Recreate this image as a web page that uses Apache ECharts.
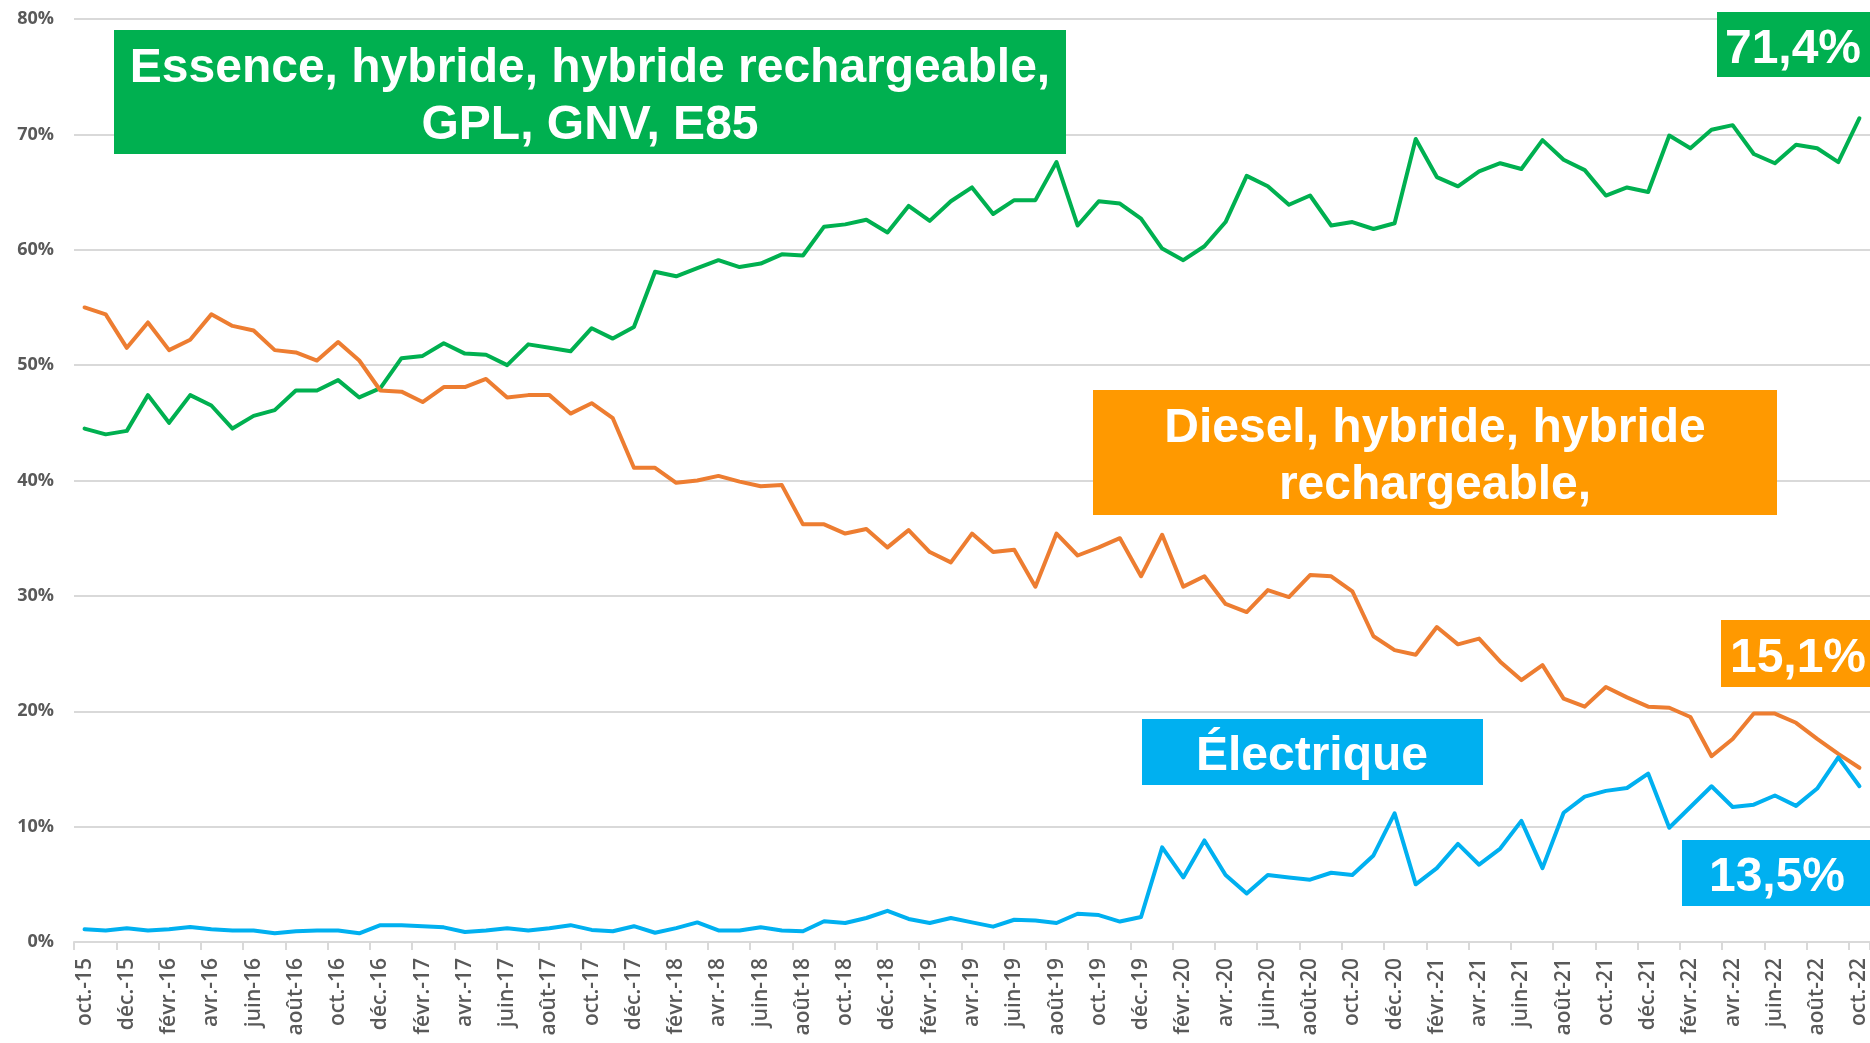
<!DOCTYPE html>
<html>
<head>
<meta charset="utf-8">
<script src="https://cdn.jsdelivr.net/npm/echarts@6/dist/echarts.min.js"></script>
<style>
html,body{margin:0;padding:0;background:#fff;}
#chart{width:1870px;height:1043px;}
</style>
</head>
<body>
<div id="chart"></div>
<script>
const categories = [
"oct.-15","nov.-15","déc.-15","janv.-16","févr.-16","mars-16","avr.-16","mai-16","juin-16","juil.-16","août-16","sept.-16",
"oct.-16","nov.-16","déc.-16","janv.-17","févr.-17","mars-17","avr.-17","mai-17","juin-17","juil.-17","août-17","sept.-17",
"oct.-17","nov.-17","déc.-17","janv.-18","févr.-18","mars-18","avr.-18","mai-18","juin-18","juil.-18","août-18","sept.-18",
"oct.-18","nov.-18","déc.-18","janv.-19","févr.-19","mars-19","avr.-19","mai-19","juin-19","juil.-19","août-19","sept.-19",
"oct.-19","nov.-19","déc.-19","janv.-20","févr.-20","mars-20","avr.-20","mai-20","juin-20","juil.-20","août-20","sept.-20",
"oct.-20","nov.-20","déc.-20","janv.-21","févr.-21","mars-21","avr.-21","mai-21","juin-21","juil.-21","août-21","sept.-21",
"oct.-21","nov.-21","déc.-21","janv.-22","févr.-22","mars-22","avr.-22","mai-22","juin-22","juil.-22","août-22","sept.-22",
"oct.-22"
];

const essence = [
44.5,44.0,44.3,47.4,45.0,47.4,46.5,44.5,45.6,46.1,47.8,47.8,
48.7,47.2,48.0,50.6,50.8,51.9,51.0,50.9,50.0,51.8,51.5,51.2,
53.2,52.3,53.3,58.1,57.7,58.4,59.1,58.5,58.8,59.6,59.5,62.0,
62.2,62.6,61.5,63.8,62.5,64.2,65.4,63.1,64.3,64.3,67.6,62.1,
64.2,64.0,62.7,60.1,59.1,60.3,62.4,66.4,65.5,63.9,64.7,62.1,
62.4,61.8,62.3,69.6,66.3,65.5,66.8,67.5,67.0,69.5,67.8,66.9,
64.7,65.4,65.0,69.9,68.8,70.4,70.8,68.3,67.5,69.1,68.8,67.6,
71.4
];

const diesel = [
55.0,54.4,51.5,53.7,51.3,52.2,54.4,53.4,53.0,51.3,51.1,50.4,
52.0,50.4,47.8,47.7,46.8,48.1,48.1,48.8,47.2,47.4,47.4,45.8,
46.7,45.4,41.1,41.1,39.8,40.0,40.4,39.9,39.5,39.6,36.2,36.2,
35.4,35.8,34.2,35.7,33.8,32.9,35.4,33.8,34.0,30.8,35.4,33.5,
34.2,35.0,31.7,35.3,30.8,31.7,29.3,28.6,30.5,29.9,31.8,31.7,
30.4,26.5,25.3,24.9,27.3,25.8,26.3,24.3,22.7,24.0,21.1,20.4,
22.1,21.2,20.4,20.3,19.5,16.1,17.6,19.8,19.8,19.0,17.6,16.3,
15.1
];

const electrique = [
1.1,1.0,1.2,1.0,1.1,1.3,1.1,1.0,1.0,0.75,0.93,1.0,
1.0,0.75,1.46,1.46,1.37,1.27,0.87,1.0,1.2,1.0,1.2,1.46,
1.05,0.93,1.37,0.8,1.2,1.7,1.0,1.0,1.27,1.0,0.93,1.8,
1.65,2.08,2.7,2.0,1.65,2.08,1.7,1.33,1.93,1.86,1.65,2.45,
2.33,1.77,2.17,8.2,5.6,8.8,5.8,4.2,5.8,5.6,5.4,6.0,
5.8,7.5,11.15,5.0,6.4,8.5,6.7,8.1,10.5,6.4,11.2,12.6,
13.1,13.35,14.6,9.9,11.7,13.5,11.7,11.9,12.7,11.8,13.3,16.0,
13.5
];

const yTicks = [0,10,20,30,40,50,60,70,80];

const labelEssence = ["Essence, hybride, hybride rechargeable,", "GPL, GNV, E85"];
const labelDiesel = ["Diesel, hybride, hybride", "rechargeable,"];
const labelElec = "Électrique";
const lastEssence = "71,4%";
const lastDiesel = "15,1%";
const lastElec = "13,5%";

const GREEN = '#00B050', ORANGE_LINE = '#ED7D31', ORANGE_BOX = '#FF9900', BLUE = '#00B0F0';
const BOXFONT = 'bold 48px "Liberation Sans", Arial, sans-serif';

function box(x, y, w, h, color, lines, cx, lh) {
  const els = [{
    type: 'rect', shape: {x: x, y: y, width: w, height: h},
    style: {fill: color}, z: 100
  }];
  const n = lines.length;
  lines.forEach(function (t, i) {
    els.push({
      type: 'text', z: 101,
      style: {
        text: t, x: cx, y: y + h / 2 + 5 + (i - (n - 1) / 2) * lh,
        fill: '#ffffff', font: BOXFONT,
        align: 'center', verticalAlign: 'middle',
        textAlign: 'center', textVerticalAlign: 'middle'
      }
    });
  });
  return els;
}

const chart = echarts.init(document.getElementById('chart'), null, {renderer: 'canvas'});
const option = {
  animation: false,
  backgroundColor: '#ffffff',
  grid: {left: 74, top: 19, width: 1800, height: 923, containLabel: false},
  xAxis: {
    type: 'category',
    data: categories,
    boundaryGap: true,
    axisLine: {show: true, lineStyle: {color: '#D9D9D9', width: 2}},
    axisTick: {show: true, interval: 1, length: 8, lineStyle: {color: '#D9D9D9', width: 2}},
    axisLabel: {
      interval: 1, rotate: 90, margin: 16,
      color: '#595959', fontSize: 21, fontWeight: 600,
      fontFamily: '"Open Sans", sans-serif'
    },
    splitLine: {show: false}
  },
  yAxis: {
    type: 'value', min: yTicks[0], max: yTicks[yTicks.length - 1], interval: 10,
    axisLine: {show: false}, axisTick: {show: false},
    axisLabel: {
      formatter: '{value}%', color: '#595959', fontSize: 18, fontWeight: 'bold',
      fontFamily: '"Open Sans", sans-serif', margin: 20
    },
    splitLine: {lineStyle: {color: '#D9D9D9', width: 2}}
  },
  series: [
    {name: 'Essence', type: 'line', data: essence, showSymbol: false, symbol: 'none',
     lineStyle: {color: GREEN, width: 4, join: 'round', cap: 'round'}, z: 3},
    {name: 'Diesel', type: 'line', data: diesel, showSymbol: false, symbol: 'none',
     lineStyle: {color: ORANGE_LINE, width: 4, join: 'round', cap: 'round'}, z: 4},
    {name: 'Électrique', type: 'line', data: electrique, showSymbol: false, symbol: 'none',
     lineStyle: {color: BLUE, width: 4, join: 'round', cap: 'round'}, z: 5}
  ],
  graphic: [].concat(
    box(114, 30, 952, 124, GREEN, labelEssence, 590, 57),
    box(1093, 390, 684, 125, ORANGE_BOX, labelDiesel, 1435, 57),
    box(1142, 719, 341, 66, BLUE, [labelElec], 1312, 57),
    box(1717, 12, 160, 65, GREEN, [lastEssence], 1793, 57),
    box(1721, 620, 160, 67, ORANGE_BOX, [lastDiesel], 1798, 57),
    box(1682, 840, 195, 66, BLUE, [lastElec], 1777, 57)
  )
};
chart.setOption(option);
</script>
</body>
</html>
